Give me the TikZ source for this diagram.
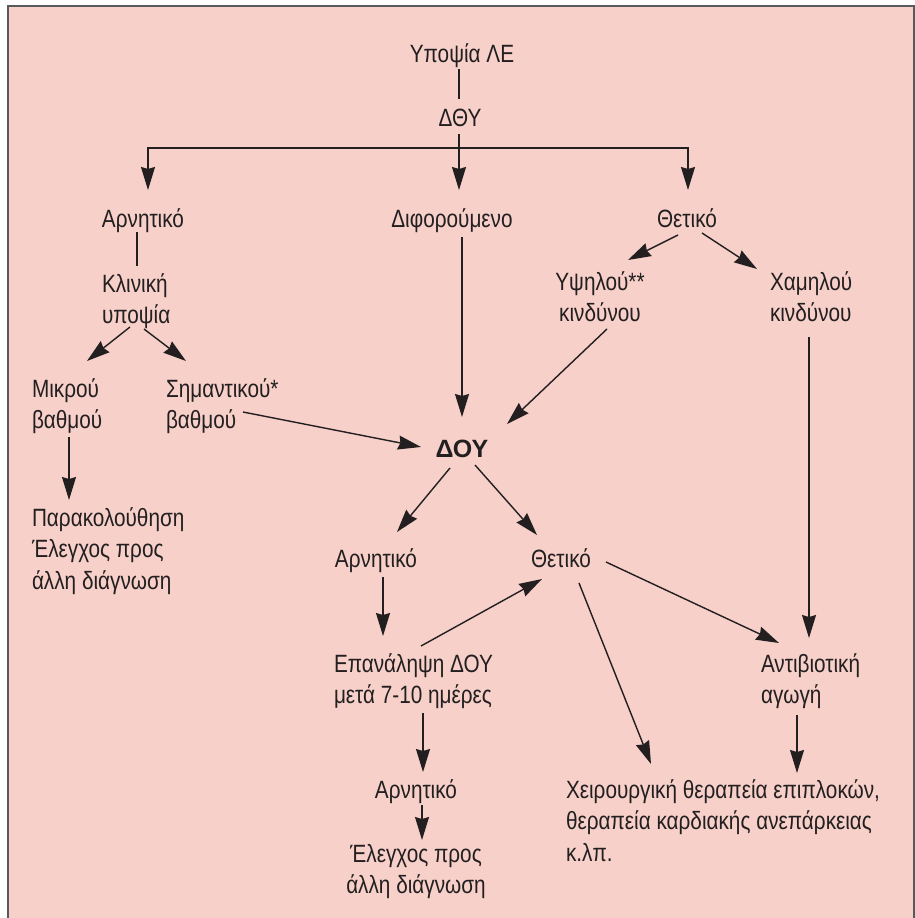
\documentclass[tikz,border=0pt]{standalone}
\usepackage{fontspec}
\setmainfont{Liberation Sans}[FakeStretch=0.83]
\newfontfamily\doufont{Liberation Sans}
\usetikzlibrary{arrows.meta,calc}
\definecolor{bgpink}{RGB}{246,208,201}
\definecolor{ink}{RGB}{35,31,32}
\definecolor{framegray}{RGB}{88,89,91}
\newcommand\Ltext[1]{\vtop{\baselineskip=31.5pt\lineskiplimit=-100pt\halign{##\hfil\cr#1\crcr}}}
\newcommand\Ctext[1]{\vtop{\baselineskip=31.5pt\lineskiplimit=-100pt\halign{\hfil##\hfil\cr#1\crcr}}}
\tikzset{
  >={Stealth[length=23pt,width=14pt,inset=2pt]},
  txt/.style={inner sep=0pt, outer sep=0pt, text=ink, font=\fontsize{25}{31.5}\selectfont},
  conn/.style={draw=ink, line width=1.4pt, line join=miter},
  arr/.style={conn, ->},
}
\begin{document}
\begin{tikzpicture}[x=1pt,y=-1pt]
\useasboundingbox (0,0) rectangle (915,918);
\fill[bgpink] (8,6) rectangle (914,918);
\draw[framegray, line width=2pt] (8,918) -- (8,6) -- (914,6) -- (914,918);

\begin{scope}[every node/.style={txt}]
\node[anchor=base] (top) at (462,62) {Υποψία ΛΕ};
\node[anchor=base] (dthy) at (460,126) {ΔΘΥ};
\node[anchor=base] (arn1) at (143,227) {Αρνητικό};
\node[anchor=base] (dif) at (452,227) {Διφορούμενο};
\node[anchor=base] (thet1) at (687,227) {Θετικό};
\node[anchor=base west] (klin) at (102,292) {\Ltext{Κλινική\cr υποψία}};
\node[anchor=base] (ypsi) at (600,290) {\Ctext{Υψηλού**\cr κινδύνου}};
\node[anchor=base west] (xam) at (770,290) {\Ltext{Χαμηλού\cr κινδύνου}};
\node[anchor=base west] (mik) at (32,397) {\Ltext{Μικρού\cr βαθμού}};
\node[anchor=base west] (sim) at (166,397) {\Ltext{Σημαντικού*\cr βαθμού}};
\node[anchor=base] (dou) at (462,457) {\doufont\bfseries ΔΟΥ};
\node[anchor=base west] (par) at (32,526) {\Ltext{Παρακολούθηση\cr Έλεγχος προς\cr άλλη διάγνωση}};
\node[anchor=base] (arn2) at (376,567) {Αρνητικό};
\node[anchor=base] (thet2) at (561,567) {Θετικό};
\node[anchor=base west] (epan) at (334,672) {\Ltext{Επανάληψη ΔΟΥ\cr μετά 7-10 ημέρες}};
\node[anchor=base west] (anti) at (761,672) {\Ltext{Αντιβιοτική\cr αγωγή}};
\node[anchor=base] (arn3) at (416,798) {Αρνητικό};
\node[anchor=base west] (xeir) at (566,798) {\Ltext{Χειρουργική θεραπεία επιπλοκών,\cr θεραπεία καρδιακής ανεπάρκειας\cr κ.λπ.}};
\node[anchor=base] (ele) at (416,862) {\Ctext{Έλεγχος προς\cr άλλη διάγνωση}};
\end{scope}

% top chain
\draw[conn] ($(top.base)+(-3,7)$) -- ($(dthy.base)+(-1,-27)$);
\draw[arr] ($(dthy.base)+(-1,8)$) -- ($(dif.base)+(7,-37)$);
\draw[conn,<->] ($(arn1.base)+(5,-37)$) -- ($(arn1.base)+(5,-79)$) -- ($(thet1.base)+(1,-79)$) -- ($(thet1.base)+(1,-37)$);

% left branch
\draw[conn] ($(arn1.base)+(-6,5)$) -- ($(klin.base west)+(35,-26)$);
\draw[arr] ($(klin.base west)+(28,35)$) -- ($(mik.base west)+(55,-36)$);
\draw[arr] ($(klin.base west)+(42,37)$) -- ($(sim.base west)+(20,-36)$);
\draw[arr] ($(sim.base west)+(77,15)$) -- ($(dou.base)+(-41,-10)$);
\draw[arr] ($(mik.base west)+(37,40)$) -- ($(par.base west)+(37,-26)$);

% middle and right branches
\draw[arr] ($(dif.base)+(10,10)$) -- ($(dou.base)+(0,-40)$);
\draw[arr] ($(thet1.base)+(-9,8)$) -- ($(ypsi.base)+(28,-30)$);
\draw[arr] ($(thet1.base)+(15,6)$) -- ($(xam.base west)+(-13,-21)$);
\draw[arr] ($(ypsi.base)+(7,39)$) -- ($(dou.base)+(45,-33)$);
\draw[arr] ($(xam.base west)+(39,47)$) -- ($(anti.base west)+(48,-34)$);

% below DOY
\draw[arr] ($(dou.base)+(-12,11)$) -- ($(arn2.base)+(21,-35)$);
\draw[arr] ($(dou.base)+(13,8)$) -- ($(thet2.base)+(-24,-32)$);
\draw[arr] ($(arn2.base)+(7,10)$) -- ($(epan.base west)+(49,-36)$);
\draw[arr] ($(epan.base west)+(87,-26)$) -- ($(thet2.base)+(-19,12)$);
\draw[arr] ($(thet2.base)+(45,-5)$) -- ($(anti.base west)+(18,-29)$);
\draw[arr] ($(thet2.base)+(18,16)$) -- ($(xeir.base west)+(85,-34)$);
\draw[arr] ($(epan.base west)+(89,41)$) -- ($(arn3.base)+(7,-26)$);
\draw[arr] ($(anti.base west)+(36,43)$) -- ($(xeir.base west)+(231,-25)$);
\draw[arr] ($(arn3.base)+(6,7)$) -- ($(ele.base)+(6,-22)$);
\end{tikzpicture}
\end{document}
